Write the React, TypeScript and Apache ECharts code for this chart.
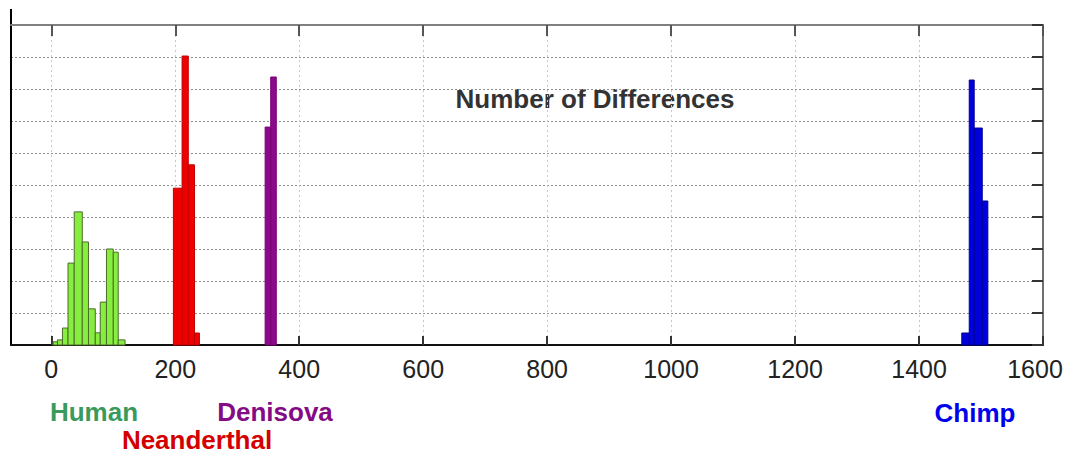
import React, { useEffect, useRef } from "react";
import * as echarts from "echarts";

// x range of the axis and tick values
const xMin = -65;
const xMax = 1600;
const xTicks = [0, 200, 400, 600, 800, 1000, 1200, 1400, 1600];
const yMax = 10;

// Histogram bins: edges and counts
const humanEdges = [3, 10, 18, 27, 37, 50, 60, 71, 79, 89, 100, 108, 119];
const humanCounts = [0.1, 0.16, 0.53, 2.56, 4.16, 3.22, 1.13, 0.38, 1.34, 3.0, 2.9, 0.16];

const neanderthalEdges = [197, 211, 221, 231, 239];
const neanderthalCounts = [4.9, 9.03, 5.63, 0.375];

const denisovaEdges = [345, 354, 363];
const denisovaCounts = [6.81, 8.375];

const chimpEdges = [1469, 1481, 1489, 1502, 1511];
const chimpCounts = [0.375, 8.28, 6.78, 4.5];

const toBins = (edges: number[], counts: number[]) =>
  counts.map((c, i) => [edges[i], edges[i + 1], c]);

const FONT = "'Liberation Sans', Arial, Helvetica, sans-serif";

function histSeries(name: string, edges: number[], counts: number[], fill: string, stroke: string) {
  return {
    type: "custom",
    name,
    xAxisIndex: 0,
    yAxisIndex: 0,
    encode: { x: [0, 1], y: 2 },
    data: toBins(edges, counts),
    renderItem: (params: any, api: any) => {
      const x0 = api.value(0);
      const x1 = api.value(1);
      const h = api.value(2);
      const p0 = api.coord([x0, h]);
      const p1 = api.coord([x1, 0]);
      return {
        type: "rect",
        shape: { x: p0[0], y: p0[1], width: p1[0] - p0[0], height: p1[1] - p0[1] },
        style: { fill, stroke, lineWidth: 1 },
      };
    },
  };
}

export default function App() {
  const ref = useRef<HTMLDivElement>(null);
  useEffect(() => {
    if (!ref.current) return;
    const chart = echarts.init(ref.current, null, { renderer: "svg" });
    const option: any = {
      animation: false,
      backgroundColor: "#ffffff",
      grid: { left: 11, right: 24, top: 25, bottom: 110, outerBoundsMode: "none", containLabel: false },
      xAxis: [
        {
          type: "value",
          position: "bottom",
          min: xMin,
          max: xMax,
          axisLine: { show: true, onZero: false, lineStyle: { color: "#111", width: 2 } },
          axisTick: { show: true, inside: true, length: 9, customValues: xTicks, lineStyle: { color: "#333", width: 2 } },
          axisLabel: {
            show: true,
            customValues: xTicks,
            margin: 11,
            fontSize: 25,
            color: "#222",
            fontFamily: FONT,
            formatter: (v: number) => (v === xMax ? `{last|${v}}` : String(v)),
            rich: {
              last: { fontSize: 25, color: "#222", fontFamily: FONT, padding: [0, 16, 0, 0] },
            },
          },
          splitLine: { show: true, lineStyle: { color: "#c8c8c8", type: [2, 3], width: 1 } },
        },
        {
          type: "value",
          position: "top",
          min: xMin,
          max: xMax,
          axisLine: { show: true, onZero: false, lineStyle: { color: "#808080", width: 2 } },
          axisTick: { show: true, inside: true, length: 11, customValues: xTicks, lineStyle: { color: "#555", width: 2 } },
          axisLabel: { show: false },
          splitLine: { show: false },
        },
      ],
      yAxis: [
        {
          type: "value",
          position: "left",
          min: 0,
          max: yMax,
          interval: 1,
          axisLine: { show: true, onZero: false, lineStyle: { color: "#000", width: 2 } },
          axisTick: { show: false },
          axisLabel: { show: false },
          splitLine: { show: true, lineStyle: { color: "#909090", type: [2, 2], width: 1 } },
        },
        {
          type: "value",
          position: "right",
          min: 0,
          max: yMax,
          interval: 1,
          axisLine: { show: true, onZero: false, lineStyle: { color: "#707070", width: 2 } },
          axisTick: { show: true, inside: true, length: 11, lineStyle: { color: "#333", width: 2 } },
          axisLabel: { show: false },
          splitLine: { show: false },
        },
      ],
      series: [
        histSeries("Human", humanEdges, humanCounts, "#86ee3e", "#4d6b2c"),
        histSeries("Neanderthal", neanderthalEdges, neanderthalCounts, "#ee0000", "#c00000"),
        histSeries("Denisova", denisovaEdges, denisovaCounts, "#8a0a8a", "#7a007a"),
        histSeries("Chimp", chimpEdges, chimpCounts, "#0000dd", "#000090"),
      ],
      graphic: [
        {
          type: "line",
          shape: { x1: 11, y1: 9, x2: 11, y2: 26 },
          style: { stroke: "#000", lineWidth: 2 },
        },
        {
          type: "text",
          x: 595,
          y: 99,
          style: {
            text: "Number of Differences",
            fill: "#333",
            font: `bold 26px ${FONT}`,
            textAlign: "center",
            textVerticalAlign: "middle",
          },
        },
        {
          type: "text",
          x: 94,
          y: 412,
          style: { text: "Human", fill: "#3a9a5c", font: `bold 26px ${FONT}`, textAlign: "center", textVerticalAlign: "middle" },
        },
        {
          type: "text",
          x: 197,
          y: 440,
          style: { text: "Neanderthal", fill: "#d40000", font: `bold 26px ${FONT}`, textAlign: "center", textVerticalAlign: "middle" },
        },
        {
          type: "text",
          x: 275,
          y: 412,
          style: { text: "Denisova", fill: "#850a85", font: `bold 26px ${FONT}`, textAlign: "center", textVerticalAlign: "middle" },
        },
        {
          type: "text",
          x: 975,
          y: 413,
          style: { text: "Chimp", fill: "#0000ee", font: `bold 26px ${FONT}`, textAlign: "center", textVerticalAlign: "middle" },
        },
      ],
    };
    chart.setOption(option);
    return () => chart.dispose();
  }, []);
  return (
    <div
      ref={ref}
      style={{ position: "absolute", left: 0, top: 0, width: 1067, height: 455 }}
    />
  );
}
